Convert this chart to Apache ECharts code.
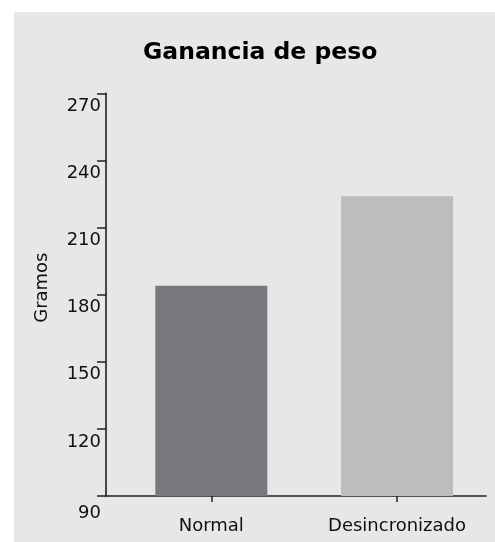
<!DOCTYPE html>
<html>
<head>
<meta charset="utf-8">
<script src="https://cdn.jsdelivr.net/npm/echarts@6/dist/echarts.min.js"></script>
<style>
html,body{margin:0;padding:0;background:#ffffff;}
#chart{position:absolute;left:14px;top:12px;width:481px;height:530px;background:#e7e7e7;}
</style>
</head>
<body>
<div id="chart"></div>
<script>
const titleText = 'Ganancia de peso';
const yAxisName = 'Gramos';
const categories = ['Normal', 'Desincronizado'];
const values = [184, 224];
const barColors = ['#77787b', '#bcbdbf'];
const yMin = 90, yMax = 270, yStep = 30;

const FONT = 'Verdana, "DejaVu Sans", sans-serif';
const INK = '#231f20';

const chart = echarts.init(document.getElementById('chart'), null, {renderer: 'canvas'});
chart.setOption({
  animation: false,
  backgroundColor: 'transparent',
  title: {
    text: titleText,
    left: 129,
    top: 29,
    padding: 0,
    textStyle: {fontFamily: FONT, fontSize: 23.5, fontWeight: 'bold', color: '#000'}
  },
  grid: {left: 92, right: 9, top: 81.3, bottom: 46, containLabel: false},
  xAxis: {
    type: 'value',
    min: -0.567,
    max: 1.479,
    splitLine: {show: false},
    axisLine: {show: true, onZero: false, lineStyle: {color: INK, width: 1.6}},
    axisTick: {show: true, customValues: [0, 1], length: 6, lineStyle: {color: INK, width: 1.5}},
    axisLabel: {
      customValues: [0, 1],
      margin: 21,
      fontFamily: FONT, fontSize: 18, color: '#111',
      formatter: v => categories[Math.round(v)] || ''
    }
  },
  yAxis: {
    type: 'value',
    min: yMin, max: yMax, interval: yStep,
    name: yAxisName,
    nameLocation: 'middle',
    nameGap: 55,
    nameRotate: 90,
    nameTextStyle: {fontFamily: FONT, fontSize: 18, color: '#111', padding: [0, 0, 0, 14]},
    splitLine: {show: false},
    axisLine: {show: true, onZero: false, lineStyle: {color: INK, width: 1.6}},
    axisTick: {show: true, length: 9, lineStyle: {color: INK, width: 1.5}},
    axisLabel: {
      margin: 5,
      verticalAlign: 'top',
      fontFamily: FONT, fontSize: 18, color: '#111',
      formatter: v => (v === yMin ? '{m|' : '{n|') + v + '}',
      rich: {
        n: {fontFamily: FONT, fontSize: 18, color: '#111', padding: [4, 0, 0, 0]},
        m: {fontFamily: FONT, fontSize: 18, color: '#111', padding: [8, 0, 0, 0]}
      }
    }
  },
  series: [{
    type: 'bar',
    barWidth: 112,
    data: values.map((v, i) => ({value: [i, v], itemStyle: {color: barColors[i]}}))
  }]
});
</script>
</body>
</html>
